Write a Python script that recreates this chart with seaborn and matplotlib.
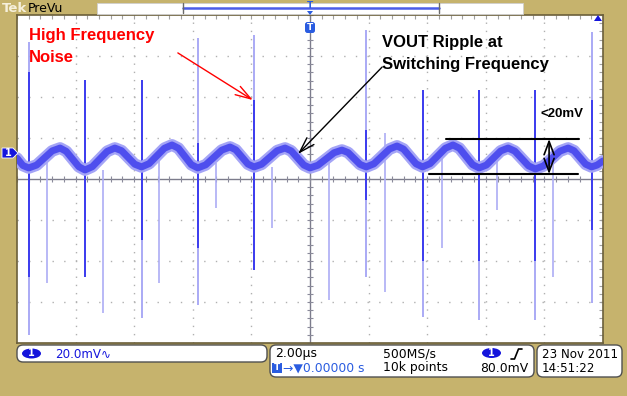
import numpy as np
import pandas as pd
import seaborn as sns
import matplotlib.pyplot as plt
from matplotlib.patches import FancyBboxPatch, Polygon, Rectangle, Ellipse
from matplotlib.transforms import IdentityTransform

# ripple trace (time in us, mV from screen centre)
ripple_t = [-10.0, -9.80, -9.60, -9.33, -8.80, -8.53, -8.32, -7.89, -7.68, -7.43, -6.92, -6.66,
            -6.43, -5.98, -5.75, -5.49, -4.97, -4.71, -4.49, -4.05, -3.83, -3.56, -3.01, -2.73,
            -2.53, -2.12, -1.91, -1.65, -1.12, -0.85, -0.64, -0.21, 0.0, 0.27, 0.82, 1.09,
            1.30, 1.71, 1.92, 2.18, 2.71, 2.97, 3.19, 3.62, 3.84, 4.10, 4.62, 4.88,
            5.10, 5.55, 5.77, 6.02, 6.51, 6.76, 6.99, 7.46, 7.69, 7.97, 8.53, 8.81,
            9.01, 9.41, 9.61, 9.80, 10.0]
ripple_mv = [10.2, 6.6, 5.4, 6.8, 13.7, 15.1, 13.5, 6.0, 4.4, 6.0, 13.5, 15.1,
             13.8, 7.2, 5.9, 7.5, 15.0, 16.6, 15.0, 7.0, 5.4, 6.9, 14.1, 15.6,
             14.2, 7.3, 5.9, 7.2, 13.8, 15.1, 13.7, 6.8, 5.4, 6.7, 12.8, 14.1,
             12.9, 7.1, 5.9, 7.4, 14.6, 16.1, 14.6, 7.4, 5.9, 7.5, 15.0, 16.6,
             15.0, 7.0, 5.4, 6.8, 13.7, 15.1, 13.6, 6.4, 4.9, 6.4, 13.6, 15.1,
             13.8, 7.2, 5.9, 6.8, 8.8]

# switching spikes (full extent and bright core)
spike_t = [-9.60, -7.68, -5.75, -3.83, -1.91, 1.92, 3.84, 5.77, 7.69, 9.61]
spike_hi = [66.8, 48.3, 48.3, 68.8, 70.2, 72.7, 43.4, 43.4, 43.4, 71.7]
spike_lo = [-76.1, -47.8, -67.8, -61.5, -44.4, -47.8, -67.3, -68.8, -68.8, -60.5]
core_hi = [52.2, 48.3, 48.3, 17.6, 38.5, 23.9, 43.4, 43.4, 43.4, 38.5]
core_lo = [-47.8, -47.8, -29.8, -33.7, -44.4, -10.2, -40.0, -40.0, -40.0, -24.9]

# fainter spikes at the other switching edge
edge_t = [-8.98, -7.07, -5.15, -3.21, -1.30, 0.65, 2.56, 4.51, 6.38, 8.29]
edge_hi = [7.8, 4.4, 10.7, 7.8, 5.9, 10.7, 22.4, 10.7, 10.7, 10.7]
edge_lo = [-50.7, -65.4, -50.7, -14.1, -23.9, -59.0, -55.1, -33.7, -15.1, -47.8]

KHAKI = "#C6B36D"
BLUE = "#1414DC"

sns.set_style("white")
plt.rcParams['font.family'] = ['DejaVu Sans']

W, H = 627, 396
fig = plt.figure(figsize=(W / 100, H / 100), dpi=100)
fig.patch.set_facecolor(KHAKI)
pix = IdentityTransform()


def P(x, y):
    return x, H - y


ax = fig.add_axes([17 / W, 1 - 343 / H, 586 / W, 328 / H])
ax.set_facecolor("white")
ax.set_xlim(-10, 10)
ax.set_ylim(-80, 80)

# graticule
for xv in np.arange(-8, 9, 2):
    if xv != 0:
        ax.axvline(xv, color="#B0B0B0", lw=1, ls=(0, (1, 4.9)), zorder=0)
for yv in np.arange(-60, 61, 20):
    if yv != 0:
        ax.axhline(yv, color="#B0B0B0", lw=1, ls=(0, (1, 7.4)), zorder=0)
ax.axhline(0, color="#7C7C8C", lw=1, zorder=1)
ax.axvline(0, color="#7C7C8C", lw=1, zorder=1)
mx = np.arange(-10, 10.01, 0.4)
my = np.arange(-80, 80.01, 4)
ax.plot(mx, np.zeros_like(mx), ls="none", marker="|", ms=5, mew=0.8, color="#8A8A9A", zorder=1)
ax.plot(np.zeros_like(my), my, ls="none", marker="_", ms=5, mew=0.8, color="#8A8A9A", zorder=1)

ax.set_xticks(np.arange(-10, 11, 2))
ax.set_yticks(np.arange(-80, 81, 20))
ax.set_xticks(mx, minor=True)
ax.set_yticks(my, minor=True)
ax.tick_params(which="both", direction="in", length=3, width=0.8, color="#A0A0A0",
               top=True, right=True, labelbottom=False, labelleft=False)
for s in ax.spines.values():
    s.set_color("#6B5F3A")
    s.set_linewidth(1.2)

# spikes
ax.vlines(edge_t, edge_lo, edge_hi, color="#ADADF5", lw=1.2, zorder=2)
ax.vlines(spike_t, spike_lo, spike_hi, color="#A4A4F4", lw=1.3, zorder=2)
ax.vlines(spike_t, core_lo, core_hi, color="#3434EE", lw=1.3, zorder=3)

# ripple trace, drawn in layers to look like the noisy band
trace = pd.DataFrame({"t": ripple_t, "mv": ripple_mv})
for lw, col, a, z in [(8.5, "#A4A4F6", 1.0, 4), (5, "#4A4AEE", 0.95, 5)]:
    sns.lineplot(data=trace, x="t", y="mv", ax=ax, sort=False, estimator=None,
                 color=col, lw=lw, alpha=a, solid_joinstyle="round", zorder=z)
ax.set_xlabel("")
ax.set_ylabel("")

# annotations
bold = dict(family="Liberation Sans", weight="bold", fontsize=12)
head = "->,head_length=0.8,head_width=0.25"
ax.text(-9.59, 67.8, "High Frequency", color="red", **bold, zorder=8)
ax.text(-9.59, 57.1, "Noise", color="red", **bold, zorder=8)
ax.annotate("", xy=(-1.95, 38.5), xytext=(-4.51, 61.5), zorder=8,
            arrowprops=dict(arrowstyle=head, color="red", lw=1, mutation_scale=14,
                            shrinkA=0, shrinkB=0))
ax.text(2.46, 64.4, "VOUT Ripple at", color="black", **bold, zorder=8)
ax.text(2.46, 53.9, "Switching Frequency", color="black", **bold, zorder=8)
ax.annotate("", xy=(-0.41, 12.2), xytext=(2.46, 54.6), zorder=8,
            arrowprops=dict(arrowstyle=head, color="black", lw=1, mutation_scale=14,
                            shrinkA=0, shrinkB=0))
ax.text(7.88, 30.2, "<20mV", color="black", family="Liberation Sans", weight="bold",
        fontsize=9.5, zorder=8)
ax.plot([4.64, 9.18], [19.5, 19.5], color="black", lw=1.5, zorder=8)
ax.plot([4.06, 9.15], [2.4, 2.4], color="black", lw=1.5, zorder=8)
ax.annotate("", xy=(8.16, 2.4), xytext=(8.16, 19.5), zorder=8,
            arrowprops=dict(arrowstyle="<->,head_length=0.8,head_width=0.3", color="black",
                            lw=1.2, mutation_scale=12, shrinkA=0, shrinkB=0))

# trigger icon at top of screen
fig.add_artist(FancyBboxPatch(P(305, 33), 10, 11, boxstyle="round,pad=0,rounding_size=2.5",
                              fc="#2A5CE0", ec="none", transform=pix, zorder=9))
fig.text(*P(310, 27.5), "T", color="white", fontsize=6.5, weight="bold", ha="center",
         va="center", transform=pix, zorder=10)
fig.add_artist(Polygon([P(594, 21), P(602, 21), P(598, 15)], closed=True, fc=BLUE,
                       ec="none", transform=pix, zorder=9))

# top bar
fig.text(*P(2, 8.5), "Tek", color="#F6F0DC", fontsize=9.5, weight="bold", va="center",
         transform=pix)
fig.text(*P(28, 8.5), "PreVu", color="black", fontsize=9, va="center", transform=pix)
fig.add_artist(Rectangle(P(97, 14), 426, 11, fc="white", ec="#CFCFCF", lw=0.6, transform=pix))
fig.add_artist(plt.Line2D([183, 439], [H - 7.5, H - 7.5], color="#4A5CE8", lw=1.8,
                          transform=pix))
for bx in (183, 439):
    fig.add_artist(plt.Line2D([bx, bx], [H - 3, H - 13], color="#6A6A6A", lw=1,
                              transform=pix))
fig.text(*P(310, 6), "T", color="#2A5CE0", fontsize=6.5, weight="bold", ha="center",
         va="center", transform=pix)
fig.add_artist(Polygon([P(307, 11), P(313, 11), P(310, 15)], closed=True, fc="#2A5CE0",
                       ec="none", transform=pix))

# channel 1 ground marker
fig.add_artist(Polygon([P(2, 148), P(13, 148), P(18, 153), P(13, 158), P(2, 158)],
                       closed=True, fc=BLUE, ec="white", lw=0.6, transform=pix))
fig.text(*P(8.5, 153), "1", color="white", fontsize=7, weight="bold", ha="center",
         va="center", transform=pix)

# bottom readout boxes
for x0, y0, x1, y1 in [(17, 345, 267, 362), (270, 345, 534, 377), (537, 345, 622, 377)]:
    fig.add_artist(FancyBboxPatch(P(x0, y1), x1 - x0, y1 - y0,
                                  boxstyle="round,pad=0,rounding_size=6", fc="white",
                                  ec="#505050", lw=1, transform=pix))
for cx, cy in [(31.5, 353.5), (491.5, 353)]:
    fig.add_artist(Ellipse(P(cx, cy), 19, 10, fc=BLUE, ec="none", transform=pix))
    fig.text(*P(cx, cy), "1", color="white", fontsize=7, weight="bold", ha="center",
             va="center", transform=pix)

fig.text(*P(55, 354.5), "20.0mV\u223f", color=BLUE, fontsize=8.6, va="center", transform=pix)
fig.text(*P(275, 354), "2.00\u00b5s", color="black", fontsize=8.9, va="center", transform=pix)
fig.text(*P(383, 354), "500MS/s", color="black", fontsize=8.9, va="center", transform=pix)
fig.text(*P(542, 354), "23 Nov 2011", color="black", fontsize=8.6, va="center", transform=pix)
fig.text(*P(383, 368), "10k points", color="black", fontsize=8.9, va="center", transform=pix)
fig.text(*P(480, 368), "80.0mV", color="black", fontsize=8.9, va="center", transform=pix)
fig.text(*P(542, 368), "14:51:22", color="black", fontsize=8.6, va="center", transform=pix)
fig.add_artist(Rectangle(P(272, 373), 10, 10, fc="#2A5CE0", ec="none", transform=pix))
fig.text(*P(277, 368), "T", color="white", fontsize=6.5, weight="bold", ha="center",
         va="center", transform=pix)
fig.text(*P(283, 368), "\u2192\u25bc0.00000 s", color="#2A5CE0", fontsize=8.9, va="center",
         transform=pix)
fig.add_artist(plt.Line2D([511, 514.5, 518.5, 522], [H - 359, H - 359, H - 349, H - 349],
                          color="black", lw=1.2, transform=pix))

fig.savefig("out.png", dpi=100, facecolor=KHAKI)
